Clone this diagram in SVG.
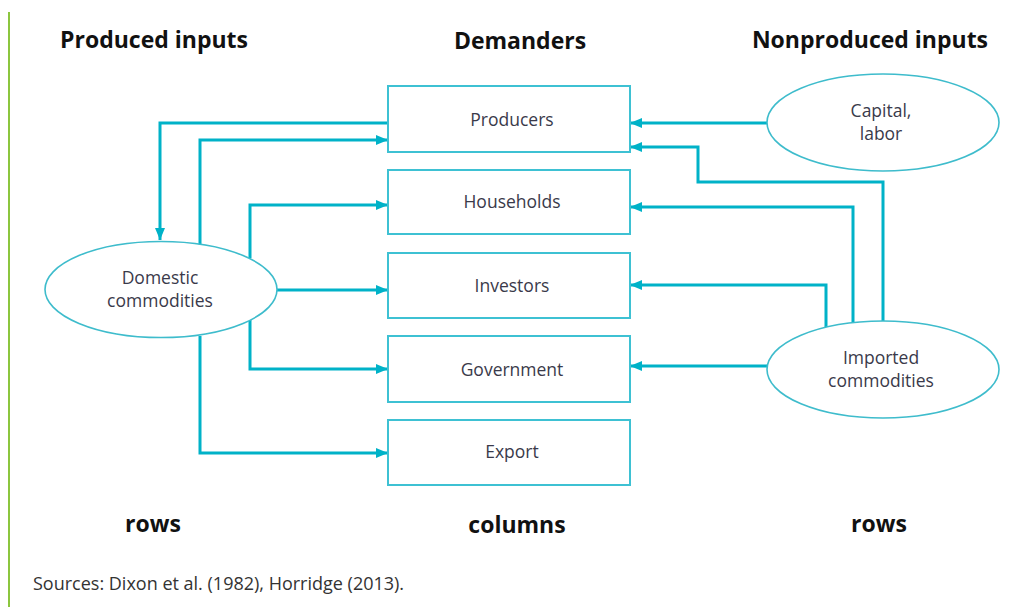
<svg xmlns="http://www.w3.org/2000/svg" width="1011" height="607" viewBox="0 0 1011 607">
<style>
.box{fill:#fff;stroke:#3ec1d3;stroke-width:2}
.ell{fill:#fff;stroke:#3ebccc;stroke-width:1.6}
.lbl{font-family:"Open Sans","Liberation Sans",sans-serif;font-size:17.5px;fill:#3a3a4a;text-anchor:middle}
.hdr{font-family:"Open Sans","Liberation Sans",sans-serif;font-size:23px;font-weight:bold;fill:#111;text-anchor:middle}
.con{fill:none;stroke:#00b2c8;stroke-width:3}
</style>
<defs>
<marker id="ah" viewBox="0 0 12 10" refX="12" refY="5" markerWidth="12" markerHeight="10" markerUnits="userSpaceOnUse" orient="auto">
<path d="M0,0 L12,5 L0,10 Z" fill="#00b2c8"/>
</marker>
</defs>
<rect width="1011" height="607" fill="#fff"/>
<line x1="9" y1="12" x2="9" y2="607" stroke="#8cc63f" stroke-width="2"/>
<g id="headers">
<text class="hdr" x="154" y="48">Produced inputs</text>
<text class="hdr" x="520" y="49">Demanders</text>
<text class="hdr" x="870" y="48">Nonproduced inputs</text>
<text class="hdr" x="153" y="532">rows</text>
<text class="hdr" x="517" y="533">columns</text>
<text class="hdr" x="879" y="532">rows</text>
</g>
<g id="connectors">
<path class="con" d="M388,123 H160 V240" marker-end="url(#ah)"/>
<path class="con" d="M200,245 V140 H388" marker-end="url(#ah)"/>
<path class="con" d="M250,258 V205 H388" marker-end="url(#ah)"/>
<path class="con" d="M277,290 H388" marker-end="url(#ah)"/>
<path class="con" d="M250,320 V369 H388" marker-end="url(#ah)"/>
<path class="con" d="M200,336 V453 H388" marker-end="url(#ah)"/>
<path class="con" d="M767,123 H630" marker-end="url(#ah)"/>
<path class="con" d="M883,321 V182 H698 V147 H630" marker-end="url(#ah)"/>
<path class="con" d="M853,323 V207 H630" marker-end="url(#ah)"/>
<path class="con" d="M826,327 V285 H630" marker-end="url(#ah)"/>
<path class="con" d="M767,366 H630" marker-end="url(#ah)"/>
</g>
<g id="producers"><rect class="box" x="388" y="86" width="242" height="66"/><text class="lbl" x="512" y="126">Producers</text></g>
<g id="households"><rect class="box" x="388" y="170" width="242" height="64"/><text class="lbl" x="512" y="208">Households</text></g>
<g id="investors"><rect class="box" x="388" y="253" width="242" height="65"/><text class="lbl" x="512" y="292">Investors</text></g>
<g id="government"><rect class="box" x="388" y="336" width="242" height="66"/><text class="lbl" x="512" y="376">Government</text></g>
<g id="export"><rect class="box" x="388" y="420" width="242" height="65"/><text class="lbl" x="512" y="458">Export</text></g>
<g id="domestic"><ellipse class="ell" cx="161" cy="289.5" rx="116" ry="48"/><text class="lbl" x="160" y="284">Domestic</text><text class="lbl" x="160" y="307">commodities</text></g>
<g id="capital"><ellipse class="ell" cx="883" cy="122.5" rx="116" ry="48.5"/><text class="lbl" x="881" y="117">Capital,</text><text class="lbl" x="881" y="140">labor</text></g>
<g id="imported"><ellipse class="ell" cx="883" cy="369.5" rx="116" ry="48.5"/><text class="lbl" x="881" y="364">Imported</text><text class="lbl" x="881" y="387">commodities</text></g>
<text x="33" y="590" font-family="'Open Sans','Liberation Sans',sans-serif" font-size="18" fill="#333">Sources: Dixon et al. (1982), Horridge (2013).</text>
</svg>
